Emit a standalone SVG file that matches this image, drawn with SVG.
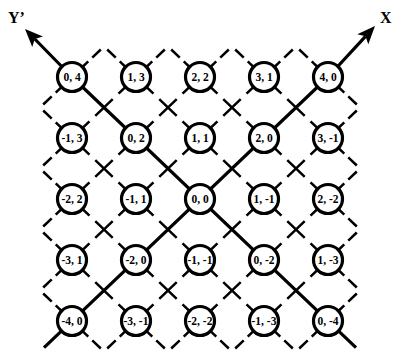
<svg xmlns="http://www.w3.org/2000/svg" width="395" height="356" viewBox="0 0 395 356">
<style>
.bg{fill:#fff}
.d,.h{stroke:#000;stroke-width:2.5;fill:none;stroke-linecap:butt}
.d{stroke-dasharray:24.1 8.04}
.h{stroke-dasharray:22.5 5.5 20 20}
.s{stroke:#000;stroke-width:3.2;fill:none;stroke-linejoin:round}
.n circle{fill:#fff;stroke:#000;stroke-width:3.2}
.n text{font-family:"Liberation Serif","Times New Roman",serif;font-weight:bold;font-size:11.5px;text-anchor:middle;fill:#000}
.ax{font-family:"Liberation Serif","Times New Roman",serif;font-weight:bold;font-size:16px;fill:#000}
</style>
<defs>
<marker id="ah" viewBox="-6 -9 22 18" refX="0" refY="0" markerWidth="22" markerHeight="18" markerUnits="userSpaceOnUse" orient="auto">
<path d="M14,0 L-4,-7.5 L0,0 L-4,7.5 Z" fill="#000"/>
</marker>
</defs>
<rect class="bg" x="0" y="0" width="395" height="356"/>
<g id="connectors">
<line class="d" x1="136" y1="77" x2="200" y2="138"/>
<line class="d" x1="200" y1="77" x2="264" y2="138"/>
<line class="d" x1="264" y1="77" x2="328" y2="138"/>
<line class="d" x1="72" y1="138" x2="136" y2="199"/>
<line class="d" x1="200" y1="138" x2="264" y2="199"/>
<line class="d" x1="264" y1="138" x2="328" y2="199"/>
<line class="d" x1="72" y1="199" x2="136" y2="260"/>
<line class="d" x1="136" y1="199" x2="200" y2="260"/>
<line class="d" x1="264" y1="199" x2="328" y2="260"/>
<line class="d" x1="72" y1="260" x2="136" y2="321"/>
<line class="d" x1="136" y1="260" x2="200" y2="321"/>
<line class="d" x1="200" y1="260" x2="264" y2="321"/>
<line class="d" x1="72" y1="138" x2="136" y2="77"/>
<line class="d" x1="136" y1="138" x2="200" y2="77"/>
<line class="d" x1="200" y1="138" x2="264" y2="77"/>
<line class="d" x1="72" y1="199" x2="136" y2="138"/>
<line class="d" x1="136" y1="199" x2="200" y2="138"/>
<line class="d" x1="264" y1="199" x2="328" y2="138"/>
<line class="d" x1="72" y1="260" x2="136" y2="199"/>
<line class="d" x1="200" y1="260" x2="264" y2="199"/>
<line class="d" x1="264" y1="260" x2="328" y2="199"/>
<line class="d" x1="136" y1="321" x2="200" y2="260"/>
<line class="d" x1="200" y1="321" x2="264" y2="260"/>
<line class="d" x1="264" y1="321" x2="328" y2="260"/>
<line class="h" x1="72" y1="77" x2="100.8" y2="49.5"/>
<line class="h" x1="136" y1="77" x2="107.2" y2="49.5"/>
<line class="h" x1="136" y1="77" x2="164.8" y2="49.5"/>
<line class="h" x1="200" y1="77" x2="171.2" y2="49.5"/>
<line class="h" x1="200" y1="77" x2="228.8" y2="49.5"/>
<line class="h" x1="264" y1="77" x2="235.2" y2="49.5"/>
<line class="h" x1="264" y1="77" x2="292.8" y2="49.5"/>
<line class="h" x1="328" y1="77" x2="299.2" y2="49.5"/>
<line class="h" x1="72" y1="321" x2="100.8" y2="348.5"/>
<line class="h" x1="136" y1="321" x2="107.2" y2="348.5"/>
<line class="h" x1="136" y1="321" x2="164.8" y2="348.5"/>
<line class="h" x1="200" y1="321" x2="171.2" y2="348.5"/>
<line class="h" x1="200" y1="321" x2="228.8" y2="348.5"/>
<line class="h" x1="264" y1="321" x2="235.2" y2="348.5"/>
<line class="h" x1="264" y1="321" x2="292.8" y2="348.5"/>
<line class="h" x1="328" y1="321" x2="299.2" y2="348.5"/>
<line class="h" x1="72" y1="77" x2="43.2" y2="104.5"/>
<line class="h" x1="72" y1="138" x2="43.2" y2="110.5"/>
<line class="h" x1="72" y1="138" x2="43.2" y2="165.5"/>
<line class="h" x1="72" y1="199" x2="43.2" y2="171.5"/>
<line class="h" x1="72" y1="199" x2="43.2" y2="226.5"/>
<line class="h" x1="72" y1="260" x2="43.2" y2="232.5"/>
<line class="h" x1="72" y1="260" x2="43.2" y2="287.5"/>
<line class="h" x1="72" y1="321" x2="43.2" y2="293.5"/>
<line class="h" x1="328" y1="77" x2="356.8" y2="104.5"/>
<line class="h" x1="328" y1="138" x2="356.8" y2="110.5"/>
<line class="h" x1="328" y1="138" x2="356.8" y2="165.5"/>
<line class="h" x1="328" y1="199" x2="356.8" y2="171.5"/>
<line class="h" x1="328" y1="199" x2="356.8" y2="226.5"/>
<line class="h" x1="328" y1="260" x2="356.8" y2="232.5"/>
<line class="h" x1="328" y1="260" x2="356.8" y2="287.5"/>
<line class="h" x1="328" y1="321" x2="356.8" y2="293.5"/>
<path id="axis-y" class="s" d="M356,347.6 L72,77 L34.8,39" marker-end="url(#ah)"/>
<path id="axis-x" class="s" d="M44,347.6 L328,77 L365.5,36.3" marker-end="url(#ah)"/>
</g>
<text class="ax" x="8" y="23">Y’</text>
<text class="ax" x="380" y="23">X</text>
<g id="n-0-4" class="n"><circle cx="72" cy="77" r="14.5"/><text x="72" y="81">0, 4</text></g>
<g id="n-1-3" class="n"><circle cx="136" cy="77" r="14.5"/><text x="136" y="81">1, 3</text></g>
<g id="n-2-2" class="n"><circle cx="200" cy="77" r="14.5"/><text x="200" y="81">2, 2</text></g>
<g id="n-3-1" class="n"><circle cx="264" cy="77" r="14.5"/><text x="264" y="81">3, 1</text></g>
<g id="n-4-0" class="n"><circle cx="328" cy="77" r="14.5"/><text x="328" y="81">4, 0</text></g>
<g id="n-m1-3" class="n"><circle cx="72" cy="138" r="14.5"/><text x="72" y="142">-1, 3</text></g>
<g id="n-0-2" class="n"><circle cx="136" cy="138" r="14.5"/><text x="136" y="142">0, 2</text></g>
<g id="n-1-1" class="n"><circle cx="200" cy="138" r="14.5"/><text x="200" y="142">1, 1</text></g>
<g id="n-2-0" class="n"><circle cx="264" cy="138" r="14.5"/><text x="264" y="142">2, 0</text></g>
<g id="n-3-m1" class="n"><circle cx="328" cy="138" r="14.5"/><text x="328" y="142">3, -1</text></g>
<g id="n-m2-2" class="n"><circle cx="72" cy="199" r="14.5"/><text x="72" y="203">-2, 2</text></g>
<g id="n-m1-1" class="n"><circle cx="136" cy="199" r="14.5"/><text x="136" y="203">-1, 1</text></g>
<g id="n-0-0" class="n"><circle cx="200" cy="199" r="14.5"/><text x="200" y="203">0, 0</text></g>
<g id="n-1-m1" class="n"><circle cx="264" cy="199" r="14.5"/><text x="264" y="203">1, -1</text></g>
<g id="n-2-m2" class="n"><circle cx="328" cy="199" r="14.5"/><text x="328" y="203">2, -2</text></g>
<g id="n-m3-1" class="n"><circle cx="72" cy="260" r="14.5"/><text x="72" y="264">-3, 1</text></g>
<g id="n-m2-0" class="n"><circle cx="136" cy="260" r="14.5"/><text x="136" y="264">-2, 0</text></g>
<g id="n-m1-m1" class="n"><circle cx="200" cy="260" r="14.5"/><text x="200" y="264">-1, -1</text></g>
<g id="n-0-m2" class="n"><circle cx="264" cy="260" r="14.5"/><text x="264" y="264">0, -2</text></g>
<g id="n-1-m3" class="n"><circle cx="328" cy="260" r="14.5"/><text x="328" y="264">1, -3</text></g>
<g id="n-m4-0" class="n"><circle cx="72" cy="321" r="14.5"/><text x="72" y="325">-4, 0</text></g>
<g id="n-m3-m1" class="n"><circle cx="136" cy="321" r="14.5"/><text x="136" y="325">-3, -1</text></g>
<g id="n-m2-m2" class="n"><circle cx="200" cy="321" r="14.5"/><text x="200" y="325">-2, -2</text></g>
<g id="n-m1-m3" class="n"><circle cx="264" cy="321" r="14.5"/><text x="264" y="325">-1, -3</text></g>
<g id="n-0-m4" class="n"><circle cx="328" cy="321" r="14.5"/><text x="328" y="325">0, -4</text></g>
</svg>
